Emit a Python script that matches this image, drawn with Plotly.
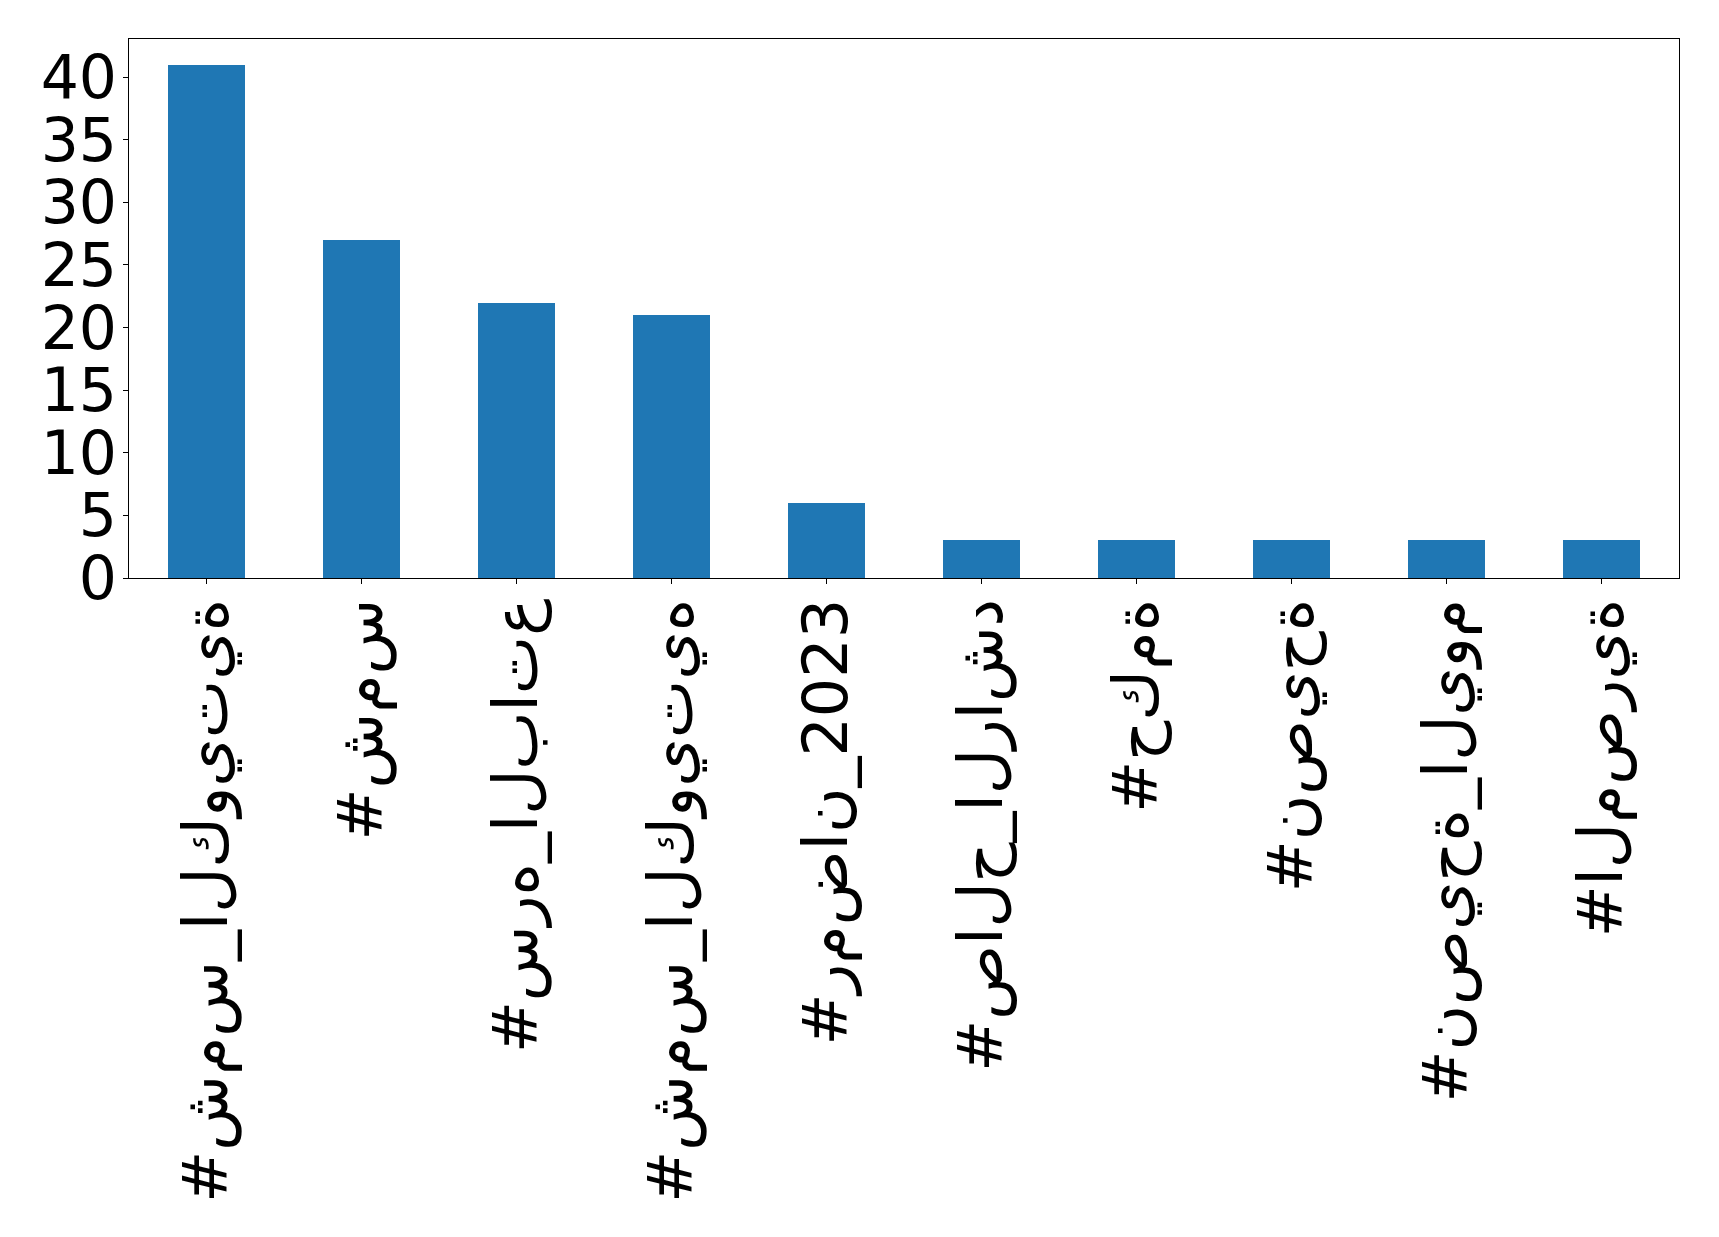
import unicodedata
import plotly.graph_objects as go

hashtags = [
    "#شمس_الكويتية",
    "#شمس",
    "#سره_الباتع",
    "#شمس_الكويتيه",
    "#رمضان_2023",
    "#صالح_الراشد",
    "#حكمة",
    "#نصيحة",
    "#نصيحة_اليوم",
    "#المصرية",
]
counts = [41, 27, 22, 21, 6, 3, 3, 3, 3, 3]
y_ticks = [0, 5, 10, 15, 20, 25, 30, 35, 40]


# The reference draws the Arabic unshaped, letter by letter, left to right:
# show each letter in its isolated form and force left-to-right order.
def isolated(ch):
    try:
        return unicodedata.lookup(unicodedata.name(ch) + " ISOLATED FORM")
    except (KeyError, ValueError):
        return ch


def unshaped(s):
    return "\u202d" + "".join(isolated(c) for c in s) + "\u202c"


x_pos = list(range(len(hashtags)))

fig = go.Figure(
    go.Bar(
        x=x_pos,
        y=counts,
        width=0.5,
        marker=dict(color="#1f77b4", line=dict(width=0)),
    )
)

xfont = dict(family="DejaVu Sans", size=62, color="black")
yfont = dict(family="DejaVu Sans", size=60, color="black")

# page body has an 8px margin, so offsets are reduced by 8
fig.update_layout(
    width=1711,
    height=1229,
    margin=dict(l=121, r=40, t=31, b=659, pad=0),
    paper_bgcolor="white",
    plot_bgcolor="white",
    showlegend=False,
    bargap=0,
)
fig.update_xaxes(
    range=[-0.5, 9.5],
    tickvals=x_pos,
    ticktext=[unshaped(h) for h in hashtags],
    tickangle=-90,
    tickfont=xfont,
    ticks="outside",
    ticklen=5,
    tickwidth=1,
    tickcolor="black",
    ticklabelstandoff=-10,
    showline=True,
    linecolor="black",
    linewidth=1,
    mirror=True,
    showgrid=False,
    zeroline=False,
)
fig.update_yaxes(
    range=[0, 43.05],
    tickvals=y_ticks,
    ticktext=[str(v) for v in y_ticks],
    tickfont=yfont,
    ticks="outside",
    ticklen=5,
    tickwidth=1,
    tickcolor="black",
    ticklabelstandoff=-6,
    showline=True,
    linecolor="black",
    linewidth=1,
    mirror=True,
    showgrid=False,
    zeroline=False,
)

fig.write_html("out.html")
